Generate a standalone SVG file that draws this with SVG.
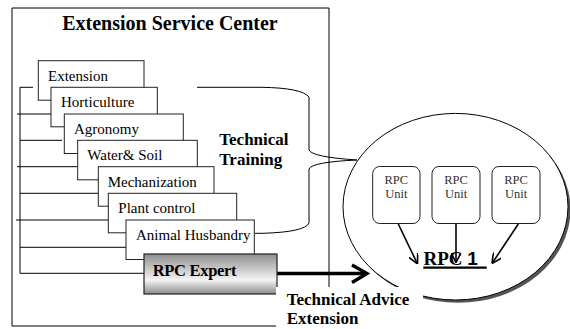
<svg xmlns="http://www.w3.org/2000/svg" width="570" height="329" viewBox="0 0 570 329">
  <style>
    .frame { fill: none; stroke: #000; stroke-width: 1; }
    .box { fill: #fff; stroke: #222; stroke-width: 1; }
    .serif { font-family: "Liberation Serif", "Times New Roman", Times, "DejaVu Serif", serif; }
    .lbl { font-size: 15px; fill: #000; }
    .bold { font-weight: bold; fill: #000; }
    .unit { fill: #fff; stroke: #222; stroke-width: 1; }
    .unitTxt { font-size: 12.5px; fill: #333; text-anchor: middle; }
    .wire { fill: none; stroke: #000; stroke-width: 1; }
    .thin { fill: none; stroke: #000; stroke-width: 1.6; }
  </style>
  <defs>
    <linearGradient id="expertFill" x1="0" y1="0" x2="0" y2="1">
      <stop offset="0" stop-color="#8e8e8e"/>
      <stop offset="0.65" stop-color="#f4f4f4"/>
      <stop offset="1" stop-color="#8c8c8c"/>
    </linearGradient>
    <marker id="open" viewBox="0 0 10 10" refX="10" refY="5" markerWidth="10" markerHeight="10" markerUnits="userSpaceOnUse" orient="auto">
      <path d="M0,0 L10,5 L0,10" fill="none" stroke="#000" stroke-width="1.6"/>
    </marker>
  </defs>

  <rect width="570" height="329" fill="#fff"/>

  <!-- outer frame of the service center -->
  <g id="service-center">
    <polyline class="frame" points="329,287 329,8 12,8 12,326 276,326"/>
    <text class="serif bold" x="170" y="30" font-size="20" text-anchor="middle">Extension Service Center</text>
  </g>

  <!-- RPC circle with shadow -->
  <g id="rpc-circle">
    <ellipse cx="458" cy="209.5" rx="112.5" ry="93.3" fill="#555"/>
    <ellipse cx="455.5" cy="206.7" rx="112.5" ry="93.3" fill="#fff" stroke="#000" stroke-width="1"/>
  </g>

  <!-- connectors -->
  <g id="connectors">
    <!-- left bracket joining the departments -->
    <line class="wire" x1="20" y1="87.3" x2="20" y2="273.3"/>
    <line class="wire" x1="20" y1="87.3" x2="33" y2="87.3"/>
    <line class="wire" x1="17" y1="114" x2="51" y2="114"/>
    <line class="wire" x1="20" y1="140.3" x2="62" y2="140.3"/>
    <line class="wire" x1="17" y1="166.7" x2="77.7" y2="166.7"/>
    <line class="wire" x1="20" y1="193.3" x2="98.3" y2="193.3"/>
    <line class="wire" x1="16" y1="220" x2="108.3" y2="220"/>
    <line class="wire" x1="20" y1="247.3" x2="126" y2="247.3"/>
    <line class="wire" x1="20" y1="273.3" x2="144" y2="273.3"/>
    <!-- training brace -->
    <path class="wire" d="M197,87.3 L262,87.3 Q302,88 309,97 L309,150 Q312,157 357,160 Q312,162 309,169 L309,223 Q305,232 263,233.3 L255,233.3"/>
    <!-- advice arrow -->
    <line x1="277" y1="273.5" x2="366" y2="273.5" stroke="#000" stroke-width="3.6"/>
    <path d="M352,265 L367,273.5 L352,282.5" fill="none" stroke="#000" stroke-width="3.4"/>
    <!-- unit arrows into RPC 1 -->
    <line class="thin" x1="398.3" y1="224" x2="417.5" y2="264" marker-end="url(#open)"/>
    <line class="thin" x1="456" y1="224" x2="456" y2="262.7" marker-end="url(#open)"/>
    <line class="thin" x1="518.3" y1="224" x2="492" y2="263.5" marker-end="url(#open)"/>
  </g>

  <!-- department cascade -->
  <g id="extension"><rect class="box" x="38.3" y="60.7" width="105.7" height="39.5"/><text class="serif lbl" x="48" y="81">Extension</text></g>
  <g id="horticulture"><rect class="box" x="51" y="87.3" width="106.3" height="39.5"/><text class="serif lbl" x="61" y="107">Horticulture</text></g>
  <g id="agronomy"><rect class="box" x="64.3" y="114" width="119" height="39.5"/><text class="serif lbl" x="74" y="133.5">Agronomy</text></g>
  <g id="water-soil"><rect class="box" x="77.7" y="140.3" width="119.6" height="39.5"/><text class="serif lbl" x="87.3" y="160">Water&amp; Soil</text></g>
  <g id="mechanization"><rect class="box" x="98.3" y="166.7" width="115.7" height="39.5"/><text class="serif lbl" x="107.7" y="186.5">Mechanization</text></g>
  <g id="plant-control"><rect class="box" x="108.3" y="193.3" width="128.4" height="39.5"/><text class="serif lbl" x="118.3" y="213.3">Plant control</text></g>
  <g id="animal-husbandry"><rect class="box" x="126" y="220" width="128.3" height="39.5"/><text class="serif lbl" x="136" y="239.5" font-size="13.2">Animal Husbandry</text></g>
  <g id="rpc-expert">
    <rect x="144" y="254" width="133" height="40" fill="url(#expertFill)" stroke="#222" stroke-width="1.2"/>
    <text class="serif bold" x="152.7" y="275.5" font-size="16.5" letter-spacing="-0.3">RPC Expert</text>
  </g>

  <!-- labels -->
  <g id="training-label">
    <text class="serif bold" x="219.3" y="145" font-size="17">Technical</text>
    <text class="serif bold" x="219.3" y="165" font-size="17">Training</text>
  </g>
  <g id="advice-label">
    <rect x="276" y="287" width="147" height="42" fill="#fff"/>
    <text class="serif bold" x="286.7" y="304.5" font-size="17">Technical Advice</text>
    <text class="serif bold" x="286.7" y="324" font-size="17">Extension</text>
  </g>

  <!-- RPC units -->
  <g id="unit-1"><rect class="unit" x="372.7" y="166.5" width="47.3" height="57" rx="7"/><text class="serif unitTxt" x="396.3" y="183.5">RPC</text><text class="serif unitTxt" x="396.3" y="197.5">Unit</text></g>
  <g id="unit-2"><rect class="unit" x="432" y="166.5" width="48" height="57" rx="7"/><text class="serif unitTxt" x="456" y="183.5">RPC</text><text class="serif unitTxt" x="456" y="197.5">Unit</text></g>
  <g id="unit-3"><rect class="unit" x="492" y="166.5" width="48" height="57" rx="7"/><text class="serif unitTxt" x="516" y="183.5">RPC</text><text class="serif unitTxt" x="516" y="197.5">Unit</text></g>

  <g id="rpc-1">
    <text class="serif bold" x="423.5" y="265" font-size="19">RPC <tspan font-family="'Liberation Sans', Arial, sans-serif">1</tspan></text>
    <line x1="423.3" y1="267.7" x2="486.7" y2="267.7" stroke="#000" stroke-width="2.2"/>
  </g>
</svg>
